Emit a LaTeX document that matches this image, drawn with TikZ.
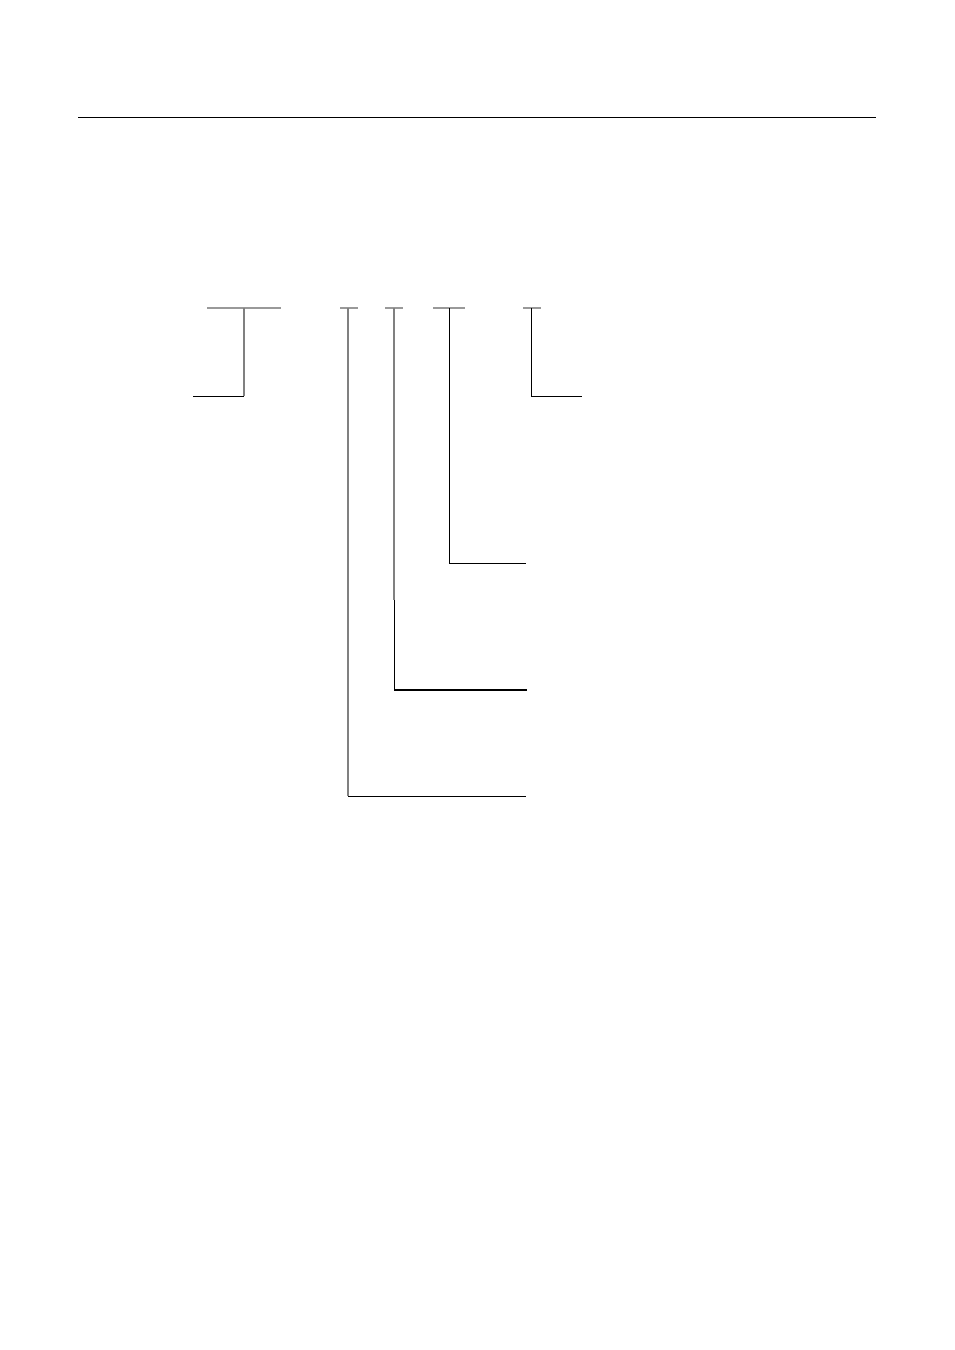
\documentclass[tikz,border=0pt]{standalone}
\tikzset{
    bar/.style={draw=gray!80, line width=0.9pt},
    lead/.style={draw=black, line width=0.6pt},
    greylead/.style={draw=gray, line width=0.8pt}
}
\begin{document}
\begin{tikzpicture}[x=0.624pt, y=-0.624pt]
        \useasboundingbox (0,0) rectangle (954,1350);
    %Rule
        \coordinate (ruleL) at (78,117);
        \coordinate (ruleR) at (876,117);
        \draw[lead] (ruleL) -- (ruleR);
    %Top bars
        \coordinate (barA) at (244,308);
        \coordinate (barB) at (348,308);
        \coordinate (barC) at (394,308);
        \coordinate (barD) at (449,308);
        \coordinate (barE) at (531,308);
        \draw[bar] ([shift=({-37,0})]barA) -- ([shift=({37,0})]barA);
        \draw[bar] ([shift=({-8,0})]barB) -- ([shift=({10,0})]barB);
        \draw[bar] ([shift=({-9,0})]barC) -- ([shift=({9,0})]barC);
        \draw[bar] ([shift=({-16,0})]barD) -- ([shift=({16,0})]barD);
        \draw[bar] ([shift=({-8,0})]barE) -- ([shift=({10,0})]barE);
    %Corners
        \coordinate (cornA) at (244,396);
        \coordinate (cornB) at (348,796);
        \coordinate (cornC) at (394,690);
        \coordinate (cornD) at (449,563);
        \coordinate (cornE) at (531,396);
    %Free ends
        \coordinate (endA) at (193,396);
        \coordinate (endB) at (526,796);
        \coordinate (endC) at (527,690);
        \coordinate (endD) at (526,563);
        \coordinate (endE) at (582,396);
    %Leads
        \draw[greylead] (barA) -- (cornA);
        \draw[lead] (cornA) -- (endA);
        \draw[greylead] (barB) -- (cornB);
        \draw[lead] (cornB) -- (endB);
        \draw[greylead] (barC) -- ([shift=({0,292})]barC);
        \draw[lead] ([shift=({0,292})]barC) -- (cornC);
        \draw[lead, line width=1.2pt] (cornC) -- (endC);
        \draw[lead] (barD) -- (cornD) -- (endD);
        \draw[lead] (barE) -- (cornE) -- (endE);
    \end{tikzpicture}
\end{document}
